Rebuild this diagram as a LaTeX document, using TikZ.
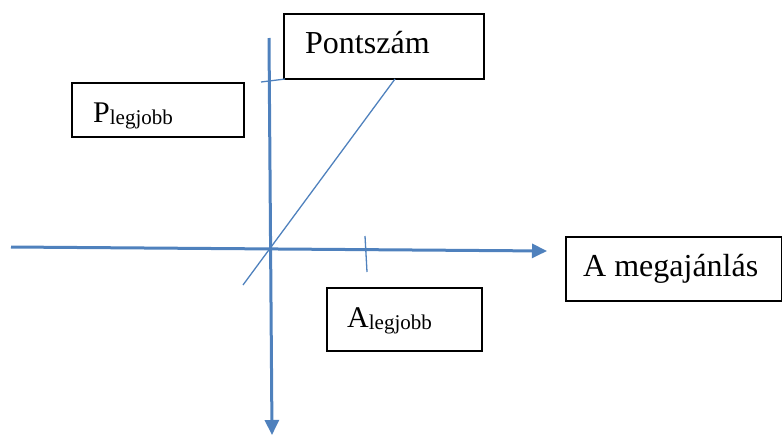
\documentclass[tikz,border=0pt]{standalone}
\usepackage{fontspec}
\setmainfont{Liberation Serif}
\usetikzlibrary{arrows.meta}
\definecolor{axisblue}{HTML}{4F81BD}
\begin{document}
\begin{tikzpicture}[x=1pt,y=-1pt,
  box/.style={draw=black,line width=2pt,inner sep=0pt,anchor=north west},
  lbl/.style={anchor=base west,inner sep=0pt,font=\fontsize{32}{38}\selectfont},
  axis/.style={draw=axisblue,line width=3pt,-{Triangle[length=15pt,width=14pt]}},
  thin/.style={draw=axisblue,line width=1.3pt}]
\useasboundingbox (0,0) rectangle (782,437);
% boxes
\node[box,minimum width=200pt,minimum height=65pt] (pbox) at (283,13) {};
\node[lbl] (ptext) at (305,53) {Pontszám};
\node[box,minimum width=172pt,minimum height=54pt] (plbox) at (71,82) {};
\node[lbl,font=\fontsize{30}{36}\selectfont] (pltext) at (93,122) {P\raisebox{-2pt}{\fontsize{21}{25}\selectfont legjobb}};
\node[box,minimum width=155pt,minimum height=63pt] (albox) at (326,287) {};
\node[lbl,font=\fontsize{30}{36}\selectfont] (altext) at (347,327) {A\raisebox{-2pt}{\fontsize{21}{25}\selectfont legjobb}};
\node[box,minimum width=216pt,minimum height=64pt] (mbox) at (565,236) {};
\node[lbl] (mtext) at (583,276) {A megajánlás};
% axes
\coordinate (vtop) at (269,38);
\coordinate (vbot) at (272,435);
\coordinate (hleft) at (11,247);
\coordinate (hright) at (547,251);
\draw[axis] (vtop) -- (vbot);
\draw[axis] (hleft) -- (hright);
% diagonal and ticks
\coordinate (dlow) at (243,285);
\coordinate (dhigh) at (395,79);
\draw[thin] (dlow) -- (dhigh);
\coordinate (vt1) at (261,82);
\coordinate (vt2) at (285,79);
\draw[thin] (vt1) -- (vt2);
\coordinate (ht1) at (365,236);
\coordinate (ht2) at (367,272);
\draw[thin] (ht1) -- (ht2);
\end{tikzpicture}
\end{document}
